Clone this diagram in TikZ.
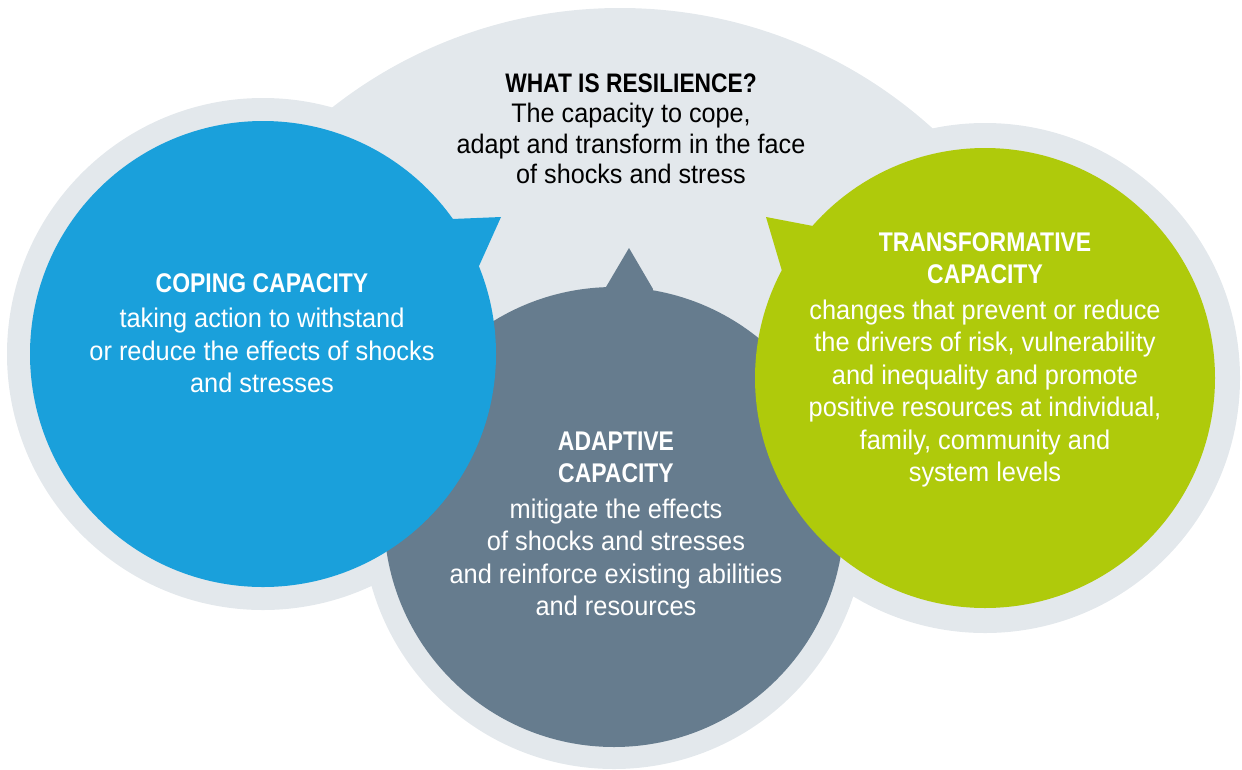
\documentclass[tikz,border=0pt]{standalone}
\usepackage{fontspec}
\setmainfont{Liberation Sans}[FakeStretch=0.94, BoldFeatures={FakeStretch=0.85}]
\definecolor{haze}{HTML}{E3E8EC}
\definecolor{copeblue}{HTML}{1AA0DB}
\definecolor{adaptslate}{HTML}{667C8E}
\definecolor{transgreen}{HTML}{AFCA0B}
\tikzset{
  blurb/.style={align=center, text=white, inner sep=0pt,
    font=\fontsize{27}{32.5}\selectfont},
  askbox/.style={align=center, text=black, inner sep=0pt,
    font=\fontsize{26.8}{30.5}\selectfont},
}

\begin{document}
\begin{tikzpicture}[x=1pt, y=-1pt]
  \useasboundingbox (0,0) rectangle (1242,769);

  % 1. Centres and bubble tips
  \coordinate (res) at (620,474);    % big backdrop disc
  \coordinate (cop) at (263,354);    % coping, left
  \coordinate (ada) at (614,517);    % adaptive, bottom
  \coordinate (tra) at (985,378);    % transformative, right
  \coordinate (coptip) at (501,217);
  \coordinate (adatip) at (629,248);
  \coordinate (tratip) at (766,217);

  % 2. Grey backdrop
  \begin{scope}
    \clip (0,0) rectangle (1242,340);
    \fill[haze] (res) circle (466pt);
  \end{scope}
  \fill[haze] (cop) circle (256pt) (ada) circle (252pt) (tra) circle (255pt);

  % 3. Speech bubbles (slate sits under the other two)
  \fill[adaptslate] (ada) circle (230pt);
  \fill[adaptslate] (ada) -- (606,287) -- (adatip) -- (653,289) -- cycle;

  \fill[copeblue] (cop) circle (233pt);
  \fill[copeblue] (cop) -- (452,219) -- (coptip) -- (479,266) -- cycle;

  \fill[transgreen] (tra) circle (230pt);
  \fill[transgreen] (tra) -- (813,226) -- (tratip) -- (782,271) -- cycle;

  % 4. Labels
  \node[askbox] (restxt) at (631,129)
    {\textbf{WHAT IS RESILIENCE?}\\The capacity to cope,\\adapt and transform in the face\\of shocks and stress};
  \node[blurb] (coptxt) at (262,333)
    {\textbf{COPING CAPACITY}\\[3pt]taking action to withstand\\or reduce the effects of shocks\\and stresses};
  \node[blurb] (adatxt) at (616,524)
    {\textbf{ADAPTIVE}\\\textbf{CAPACITY}\\[3pt]mitigate the effects\\of shocks and stresses\\and reinforce existing abilities\\and resources};
  \node[blurb] (tratxt) at (985,360)
    {\textbf{TRANSFORMATIVE}\\\textbf{CAPACITY}\\[3pt]changes that prevent or reduce\\the drivers of risk, vulnerability\\and inequality and promote\\positive resources at individual,\\family, community and\\system levels};
\end{tikzpicture}
\end{document}
